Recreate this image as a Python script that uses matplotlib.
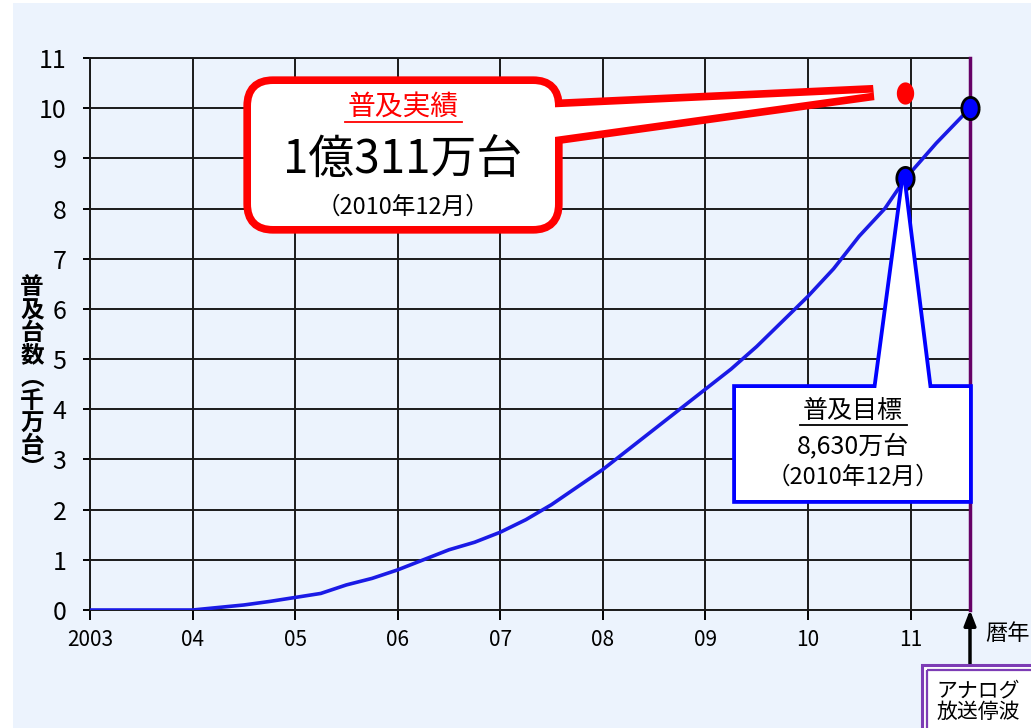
import numpy as np
import matplotlib
matplotlib.use("Agg")
from matplotlib import pyplot as plt
from matplotlib.patches import FancyBboxPatch, Polygon, Rectangle
from matplotlib.transforms import Affine2D

plt.rcParams['font.family'] = ['Noto Sans CJK JP', 'DejaVu Sans']

# digital TV receivers in use (tens of millions)
years = [2003.0, 2003.5, 2004.0, 2004.25, 2004.5, 2004.75, 2005.0, 2005.25, 2005.5,
         2005.75, 2006.0, 2006.25, 2006.5, 2006.75, 2007.0, 2007.25, 2007.5, 2007.75,
         2008.0, 2008.25, 2008.5, 2008.75, 2009.0, 2009.25, 2009.5, 2009.75, 2010.0,
         2010.25, 2010.5, 2010.75, 2010.95, 2011.25, 2011.58]
units = [0, 0, 0, 0.05, 0.1, 0.17, 0.25, 0.33, 0.5, 0.63, 0.8, 1.0, 1.2, 1.35, 1.55,
         1.8, 2.1, 2.45, 2.8, 3.2, 3.6, 4.0, 4.4, 4.8, 5.25, 5.75, 6.25, 6.8, 7.45,
         8.0, 8.6, 9.3, 10.0]

target_x = [2010.95, 2011.58]
target_y = [8.6, 10.0]
actual_x = 2010.95
actual_y = 10.311
analog_off = 2011.58

year_ticks = [2003, 2004, 2005, 2006, 2007, 2008, 2009, 2010, 2011]
year_labels = ['2003', '04', '05', '06', '07', '08', '09', '10', '11']
yticks = list(range(0, 12))

W, H = 1031, 728
BG = '#ecf3fd'
fig = plt.figure(figsize=(W / 100, H / 100), dpi=100, facecolor='white')
# image pixel coords (y down) -> display
px = Affine2D().scale(1, -1).translate(0, H)

fig.patches.append(Rectangle((13, 3), W, H, transform=px, facecolor=BG,
                             edgecolor='none', zorder=-10))

ax = fig.add_axes([90 / W, 1 - 610 / H, 880 / W, 552 / H])
ax.set_facecolor('none')
ax.set_xlim(2003, analog_off)
ax.set_ylim(0, 11)

ax.plot(years, units, color='#1a1ae6', lw=2.6, zorder=5, solid_capstyle='round')

t = np.linspace(0, 2 * np.pi, 60)
oval = np.column_stack([0.78 * np.cos(t), np.sin(t)])
ax.plot(target_x, target_y, ls='none', marker=oval, ms=16, mfc='#0000ff',
        mec='black', mew=2, zorder=8, clip_on=False)
ax.plot([actual_x], [actual_y], ls='none', marker=oval, ms=16, mfc='#ff0000',
        mec='none', zorder=8, clip_on=False)

ax.axvline(analog_off, color='#660066', lw=2.5, zorder=4, clip_on=False)

ax.set_xticks(year_ticks)
ax.set_xticklabels(year_labels)
ax.set_yticks(yticks)
ax.grid(True, color='#1a1a1a', lw=1.4)
for sp in ['left', 'bottom', 'top']:
    ax.spines[sp].set_color('#1a1a1a')
    ax.spines[sp].set_linewidth(1.4)
ax.spines['right'].set_visible(False)
ax.tick_params(axis='y', length=5, width=1.4, pad=12, labelsize=18)
ax.tick_params(axis='x', length=7, width=1.4, pad=7, labelsize=15)

fig.text(32, 378, '\n'.join('普及台数︵千万台︶'), transform=px, ha='center',
         va='center', fontsize=17, fontweight='bold', linespacing=0.93)

# red callout (actual)
fig.canvas.draw()
tip = ax.transData.transform((actual_x, actual_y))
tip_img = (tip[0] - 32, H - tip[1])
red_box = dict(boxstyle='round,pad=0,rounding_size=22')
red_ptr = [(540, 108), tip_img, (540, 139)]
fig.patches.append(FancyBboxPatch((251, 84), 304, 142, transform=px, facecolor='none',
                                  edgecolor='#ff0000', lw=11, zorder=20, **red_box))
fig.patches.append(Polygon(red_ptr, transform=px, facecolor='none', edgecolor='#ff0000',
                           lw=11, joinstyle='miter', zorder=20))
fig.patches.append(FancyBboxPatch((251, 84), 304, 142, transform=px, facecolor='white',
                                  edgecolor='none', zorder=21, **red_box))
fig.patches.append(Polygon(red_ptr, transform=px, facecolor='white', edgecolor='none',
                           zorder=21))
fig.text(403, 107, '普及実績', transform=px, ha='center', va='center', fontsize=20,
         color='#ff0000', zorder=30)
fig.lines.append(plt.Line2D([345, 462], [122, 122], transform=px, color='#ff0000',
                            lw=1.3, zorder=30))
fig.text(403, 160, '1億311万台', transform=px, ha='center', va='center', fontsize=33,
         zorder=30)
fig.text(403, 207, '（2010年12月）', transform=px, ha='center', va='center',
         fontsize=17, zorder=30)

# blue callout (target)
bt = ax.transData.transform((target_x[0], target_y[0]))
blue_ptr = [(876, 390), (bt[0] - 2, H - bt[1] + 6), (929, 390)]
fig.patches.append(Rectangle((736, 388), 233, 112, transform=px, facecolor='none',
                             edgecolor='#0000ff', lw=5.5, zorder=20))
fig.patches.append(Polygon(blue_ptr, transform=px, facecolor='none', edgecolor='#0000ff',
                           lw=5.5, zorder=20))
fig.patches.append(Rectangle((736, 388), 233, 112, transform=px, facecolor='white',
                             edgecolor='none', zorder=21))
fig.patches.append(Polygon(blue_ptr, transform=px, facecolor='white', edgecolor='none',
                           zorder=21))
fig.text(853, 411, '普及目標', transform=px, ha='center', va='center', fontsize=18,
         zorder=30)
fig.lines.append(plt.Line2D([800, 907], [425, 425], transform=px, color='black',
                            lw=1.3, zorder=30))
fig.text(853, 446, '8,630万台', transform=px, ha='center', va='center', fontsize=18,
         zorder=30)
fig.text(853, 477, '（2010年12月）', transform=px, ha='center', va='center',
         fontsize=17, zorder=30)

# analog shutdown marker
ax.annotate('', xy=(analog_off, 0), xycoords='data', xytext=(0, -80),
            textcoords='offset pixels',
            arrowprops=dict(arrowstyle='-|>,head_length=0.9,head_width=0.35',
                            color='black', lw=2.5, shrinkA=0, shrinkB=0))
fig.text(1008, 633, '暦年', transform=px, ha='center', va='center', fontsize=16)
fig.patches.append(Rectangle((922, 665), 120, 80, transform=px, facecolor='white',
                             edgecolor='#7d3cb5', lw=2.2, zorder=20))
fig.patches.append(Rectangle((927, 670), 120, 80, transform=px, facecolor='none',
                             edgecolor='#7d3cb5', lw=1.6, zorder=21))
fig.text(978, 701, 'アナログ\n放送停波', transform=px, ha='center', va='center',
         fontsize=15, linespacing=0.95, zorder=30)

fig.savefig('out.png', dpi=100, facecolor=fig.get_facecolor())
